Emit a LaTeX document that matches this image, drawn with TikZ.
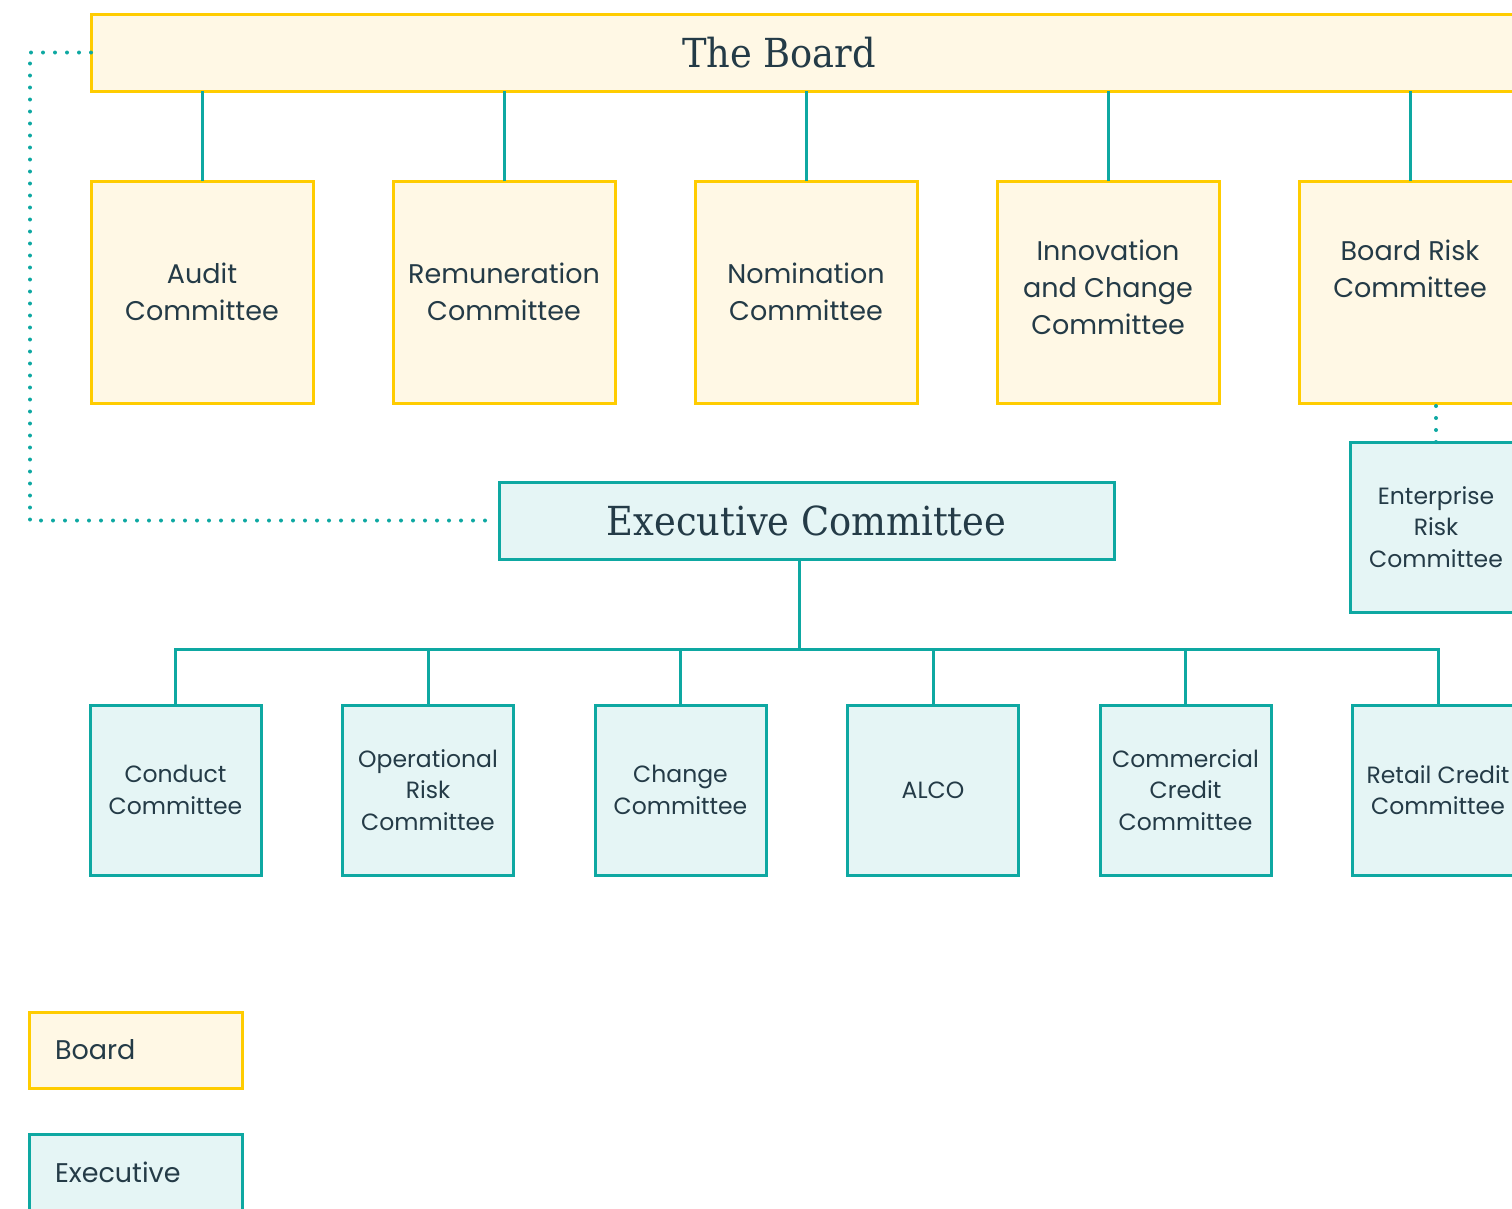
\documentclass[tikz,border=0pt]{standalone}
\usepackage{fontspec}
\setmainfont{Poppins}
\newfontfamily\slabfont[FakeStretch=0.92]{DejaVu Serif}
\usetikzlibrary{positioning}
\definecolor{boardline}{HTML}{FFCC00}
\definecolor{boardfill}{HTML}{FFF8E5}
\definecolor{execline}{HTML}{0EA8A2}
\definecolor{execfill}{HTML}{E5F5F5}
\definecolor{ink}{HTML}{243B47}
\tikzstyle{board} = [rectangle, draw=boardline, fill=boardfill, line width=3pt, inner sep=0pt, outer sep=0pt, align=center, text=ink]
\tikzstyle{exec} = [rectangle, draw=execline, fill=execfill, line width=3pt, inner sep=0pt, outer sep=0pt, align=center, text=ink]
\tikzstyle{title} = [text=ink, inner sep=0pt, font=\slabfont\fontsize{40}{48}\selectfont]
\tikzstyle{bcom} = [board, minimum width=222pt, minimum height=222pt, font=\fontsize{27}{37}\selectfont]
\tikzstyle{ecom} = [exec, minimum width=171pt, minimum height=170pt, font=\fontsize{23.5}{31.5}\selectfont]
\tikzstyle{key} = [minimum width=213pt, minimum height=76pt, text width=161pt, inner xsep=26pt, align=left, font=\fontsize{27}{32}\selectfont]
\tikzstyle{line} = [draw=execline, line width=3pt]
\tikzstyle{dots} = [draw=execline, line width=4pt, line cap=round, dash pattern=on 0pt off 12pt]

\begin{document}
\begin{tikzpicture}[x=1pt, y=-1pt]
	\useasboundingbox (0,0) rectangle (1512,1208);
	\clip (0,0) rectangle (1512,1208);

	% board level
	\node (board) [board, minimum width=1440pt, minimum height=77pt, anchor=north west] at (91,14) {};
	\node (btitle) [title] at (779,52.5) {The Board};
	\node (aud) [bcom, anchor=north west] at (91,181) {Audit\\Committee};
	\node (rem) [bcom, right=80pt of aud] {Remuneration\\Committee};
	\node (nom) [bcom, right=80pt of rem] {Nomination\\Committee};
	\node (inn) [bcom, right=80pt of nom] {Innovation\\and Change\\Committee\\[-28pt]~};
	\node (brc) [bcom, right=80pt of inn] {Board Risk\\Committee\\[10pt]~};
	\foreach \c in {aud,rem,nom,inn,brc}
		\draw [line] (\c.north) -- (\c.north |- board.south);

	% executive level
	\node (exe) [exec, minimum width=615pt, minimum height=77pt, anchor=north west] at (499,482) {};
	\node (etitle) [title] at (exe.center) {Executive Committee};
	\node (ent) [ecom, minimum width=172pt, anchor=north west] at (1350,442) {Enterprise\\Risk\\Committee};
	\draw [dots] (ent.north) -- (ent.north |- brc.south);
	\draw [dots] (board.west) -- ++(-61,0) |- ([xshift=-9pt]exe.west);

	\node (con) [ecom, anchor=north west] at (90,705) {Conduct\\Committee};
	\node (opr) [ecom, right=81.5pt of con] {Operational\\Risk\\Committee};
	\node (chg) [ecom, right=81.5pt of opr] {Change\\Committee};
	\node (alco) [ecom, right=81.5pt of chg] {ALCO};
	\node (ccc) [ecom, right=81.5pt of alco] {Commercial\\Credit\\Committee};
	\node (rcc) [ecom, right=81.5pt of ccc] {Retail Credit\\Committee};

	\coordinate (bus) at (799,649);
	\draw [line] ([xshift=-7.5pt]exe.south) -- (bus);
	\draw [line] (con.north) -- (con.north |- bus) -- (rcc.north |- bus) -- (rcc.north);
	\foreach \c in {opr,chg,alco,ccc}
		\draw [line] (\c.north) -- (\c.north |- bus);

	% key
	\node (kboard) [board, key, anchor=north west] at (29,1012) {Board};
	\node (kexec) [exec, key, anchor=north west] at (29,1134) {Executive};
\end{tikzpicture}
\end{document}
